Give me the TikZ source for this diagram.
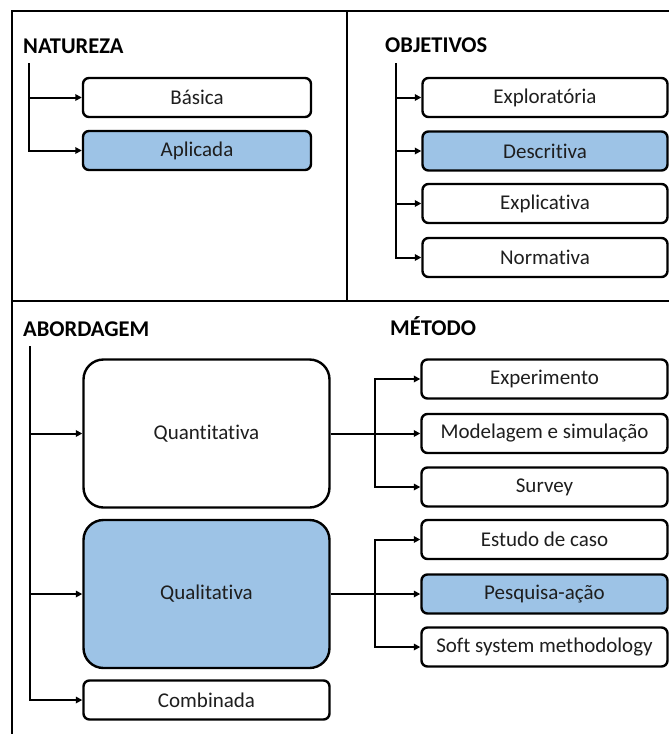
\documentclass[tikz,border=0pt]{standalone}
\usepackage{fontspec}
\setmainfont{Carlito}[Ligatures={NoCommon}]
\usetikzlibrary{arrows.meta}
\definecolor{boxblue}{HTML}{9DC3E6}
\definecolor{ink}{HTML}{1E1E1E}
\tikzset{
  frame/.style={line width=2.6pt, black},
  item/.style={draw=black, line width=2.4pt, rounded corners=6pt, fill=white,
    minimum height=39pt, inner sep=0pt, text=ink, font=\fontsize{21}{23}\selectfont},
  chosen/.style={fill=boxblue},
  bigitem/.style={item, rounded corners=20pt, minimum height=148pt},
  heading/.style={anchor=base west, inner sep=0pt, font=\bfseries\fontsize{22.5}{25}\selectfont, text=black},
  link/.style={line width=2pt, black, -{Triangle[length=6.5pt,width=6.5pt]}},
}
\begin{document}
\begin{tikzpicture}[x=1pt, y=-1pt]
\useasboundingbox (0,0) rectangle (669,734);

% panel frame
\draw[frame] (12,734) -- (12,11) -- (669,11);
\draw[frame] (347,11) -- (347,301);
\draw[frame] (12,301) -- (669,301);

% NATUREZA
\node[heading] (hnat) at (23,53) {NATUREZA};
\node[item, minimum width=228pt] (basica) at (197,97.5) {Básica};
\node[item, chosen, minimum width=228pt] (aplicada) at (197,150.5) {Aplicada};
\coordinate (tnat) at (28.5,63);
\draw[link] (tnat) |- (basica.west);
\draw[link] (tnat) |- (aplicada.west);

% OBJETIVOS
\node[heading] (hobj) at (385,52) {OBJETIVOS};
\node[item, minimum width=245pt] (explor) at (545,97.5) {Exploratória};
\node[item, chosen, minimum width=245pt] (descr) at (545,151) {Descritiva};
\node[item, minimum width=245pt] (expli) at (545,203.5) {Explicativa};
\node[item, minimum width=245pt] (norm) at (545,257.5) {Normativa};
\coordinate (tobj) at (396,63);
\draw[link] (tobj) |- (explor.west);
\draw[link] (tobj) |- (descr.west);
\draw[link] (tobj) |- (expli.west);
\draw[link] (tobj) |- (norm.west);

% ABORDAGEM
\node[heading] (habo) at (23,336) {ABORDAGEM};
\node[bigitem, minimum width=246pt] (quant) at (206.5,433.5) {Quantitativa};
\node[bigitem, chosen, minimum width=246pt] (quali) at (206.5,594) {Qualitativa};
\node[item, minimum width=246pt] (comb) at (206.5,700) {Combinada};
\coordinate (tabo) at (30,346);
\draw[link] (tabo) |- (quant.west);
\draw[link] (tabo) |- (quali.west);
\draw[link] (tabo) |- (comb.west);

% MÉTODO
\node[heading] (hmet) at (390,335) {MÉTODO};
\node[item, minimum width=246pt] (exper) at (544.5,379) {Experimento};
\node[item, minimum width=246pt] (model) at (544.5,433.5) {Modelagem e simulação};
\node[item, minimum width=246pt] (survey) at (544.5,487) {Survey};
\node[item, minimum width=246pt] (estudo) at (544.5,539.5) {Estudo de caso};
\node[item, chosen, minimum width=246pt] (pesq) at (544.5,594) {Pesquisa-ação};
\node[item, minimum width=246pt] (soft) at (544.5,647) {Soft system methodology};

\coordinate (bquant) at (375,433.5);
\draw[link] (quant.east) -- (model.west);
\draw[link] (bquant) |- (exper.west);
\draw[link] (bquant) |- (survey.west);

\coordinate (bquali) at (375,594);
\draw[link] (quali.east) -- (pesq.west);
\draw[link] (bquali) |- (estudo.west);
\draw[link] (bquali) |- (soft.west);
\end{tikzpicture}
\end{document}
